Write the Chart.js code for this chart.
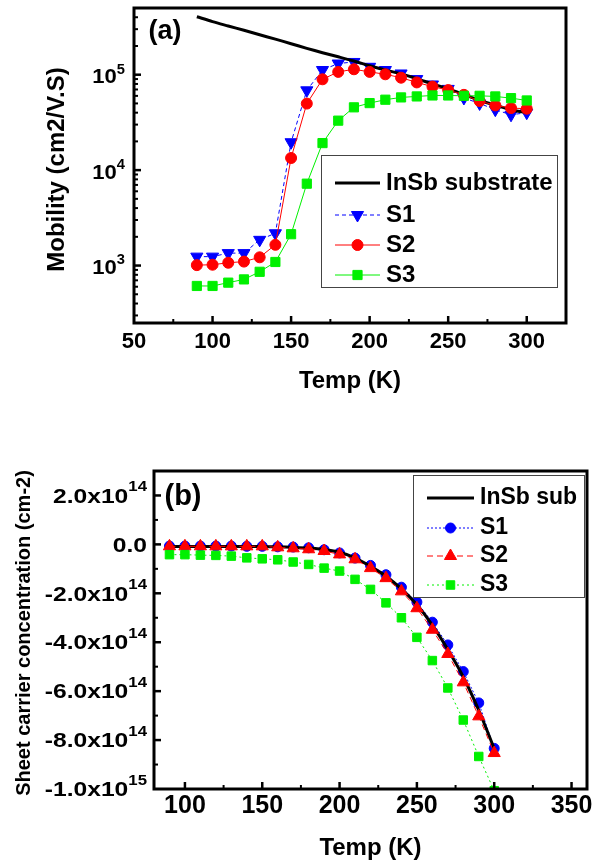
<!DOCTYPE html>
<html>
<head>
<meta charset="utf-8">
<script src="https://cdn.jsdelivr.net/npm/chart.js@4.4.1/dist/chart.umd.min.js"></script>
<style>
  html, body { margin: 0; padding: 0; background: #fff; }
  .wrap { position: absolute; left: 0; width: 595px; }
  #wrapA { top: 0; height: 410px; }
  #wrapB { top: 410px; height: 457px; }
</style>
</head>
<body>
<div class="wrap" id="wrapA"><canvas id="chartA" width="595" height="410"></canvas></div>
<div class="wrap" id="wrapB"><canvas id="chartB" width="595" height="457"></canvas></div>
<script>
// temperatures (K), shared by both panels
const temps = [90, 100, 110, 120, 130, 140, 150, 160, 170, 180, 190, 200, 210, 220, 230, 240, 250, 260, 270, 280, 290, 300];

// (a) mobility, cm2/V.S
const insbMobility = [405000, 360000, 324000, 292000, 262000, 236000, 211000, 189000, 170000, 154000, 139000, 124000, 112000, 102000, 91000, 80000, 71000, 62000, 54000, 48000, 43000, 40000];
const s1Mobility = [1240, 1240, 1350, 1350, 1860, 2180, 19600, 68600, 112000, 131000, 136000, 121000, 112000, 103000, 90000, 79000, 71000, 57000, 50000, 43000, 38000, 40000];
const s2Mobility = [1010, 1020, 1070, 1100, 1220, 1650, 13400, 49800, 89500, 107000, 114000, 107000, 101000, 93000, 83000, 75000, 69000, 61500, 53000, 47700, 44700, 44000];
const s3Mobility = [611, 611, 662, 716, 860, 1090, 2130, 7210, 19200, 33000, 45500, 50400, 54700, 57800, 59200, 60600, 60600, 60100, 60100, 59200, 56800, 53700];

// (b) sheet carrier concentration, cm-2
const insbSheet = [-0.09e14, -0.09e14, -0.09e14, -0.09e14, -0.09e14, -0.09e14, -0.09e14, -0.10e14, -0.12e14, -0.15e14, -0.21e14, -0.32e14, -0.55e14, -0.90e14, -1.30e14, -1.82e14, -2.47e14, -3.30e14, -4.30e14, -5.42e14, -6.78e14, -8.35e14];
const s1Sheet = [-0.07e14, -0.07e14, -0.07e14, -0.07e14, -0.07e14, -0.08e14, -0.08e14, -0.10e14, -0.11e14, -0.14e14, -0.22e14, -0.35e14, -0.56e14, -0.86e14, -1.24e14, -1.75e14, -2.36e14, -3.18e14, -4.11e14, -5.20e14, -6.48e14, -8.34e14];
const s2Sheet = [-0.08e14, -0.08e14, -0.08e14, -0.08e14, -0.08e14, -0.08e14, -0.08e14, -0.12e14, -0.16e14, -0.20e14, -0.27e14, -0.41e14, -0.61e14, -0.97e14, -1.38e14, -1.92e14, -2.61e14, -3.49e14, -4.48e14, -5.64e14, -7.03e14, -8.53e14];
const s3Sheet = [-0.42e14, -0.42e14, -0.44e14, -0.45e14, -0.48e14, -0.55e14, -0.59e14, -0.63e14, -0.72e14, -0.82e14, -0.97e14, -1.09e14, -1.43e14, -1.84e14, -2.39e14, -3.00e14, -3.80e14, -4.75e14, -5.87e14, -7.18e14, -8.67e14, -10.07e14];

// axis ticks
const xTicksA = [50, 100, 150, 200, 250, 300];
const xMinorA = [75, 125, 175, 225, 275];
const yTicksA = [1e3, 1e4, 1e5];
const yTickLabelsA = [['10', '3'], ['10', '4'], ['10', '5']];
const yMinorA = [];
[100, 1000, 10000, 100000].forEach(d => { for (let k = 2; k <= 9; k++) yMinorA.push(k * d); });

const xTicksB = [100, 150, 200, 250, 300, 350];
const xMinorB = [125, 175, 225, 275, 325];
const yTicksB = [2e14, 0, -2e14, -4e14, -6e14, -8e14, -1e15];
const yTickLabelsB = [['2.0x10', '14'], ['0.0', ''], ['-2.0x10', '14'], ['-4.0x10', '14'], ['-6.0x10', '14'], ['-8.0x10', '14'], ['-1.0x10', '15']];
const yMinorB = [1e14, -1e14, -3e14, -5e14, -7e14, -9e14];

const FONT = '"Liberation Sans", Arial, sans-serif';
const pairs = (ys) => temps.map((t, i) => ({ x: t, y: ys[i] }));

function drawText(ctx, s, x, y, size, o = {}) {
    ctx.save();
    ctx.translate(x, y);
    if (o.rot) ctx.rotate(o.rot);
    ctx.scale(o.sx || 1, o.sy || 1);
    ctx.font = 'bold ' + size + 'px ' + FONT;
    ctx.fillStyle = '#000';
    ctx.textAlign = o.align || 'center';
    ctx.textBaseline = o.base || 'middle';
    ctx.fillText(s, 0, 0);
    ctx.restore();
}

function textWidth(ctx, s, size) {
    ctx.save();
    ctx.font = 'bold ' + size + 'px ' + FONT;
    const w = ctx.measureText(s).width;
    ctx.restore();
    return w;
}

// label like 10^5, right aligned at xr
function drawPower(ctx, main, sup, xr, y, st) {
    const ws = sup ? textWidth(ctx, sup, st.sup) * st.sx : 0;
    const wm = textWidth(ctx, main, st.main) * st.sx;
    drawText(ctx, main, xr - ws - wm, y + st.dy, st.main, { align: 'left', sx: st.sx, sy: st.sy });
    if (sup) drawText(ctx, sup, xr - ws, y + st.supDy, st.sup, { align: 'left', sx: st.sx, sy: st.sy });
}

function tick(ctx, x1, y1, x2, y2) {
    ctx.beginPath();
    ctx.moveTo(x1, y1);
    ctx.lineTo(x2, y2);
    ctx.stroke();
}

// frame, inward ticks, labels and boxed legend, all from the chart's scales
function decorPlugin(cfg) {
    return {
        id: 'decor',
        afterDraw(chart) {
            const { ctx, chartArea: a, scales: { x, y } } = chart;
            ctx.save();
            ctx.strokeStyle = '#000';
            ctx.lineCap = 'butt';

            ctx.lineWidth = 2.5;
            cfg.xTicks.forEach(v => { const p = x.getPixelForValue(v); if (p > a.left + 2 && p < a.right - 2) tick(ctx, p, a.bottom, p, a.bottom - 7); });
            cfg.yTicks.forEach(v => { const p = y.getPixelForValue(v); if (p > a.top + 2 && p < a.bottom - 2) tick(ctx, a.left, p, a.left + 7, p); });
            ctx.lineWidth = 2;
            cfg.xMinor.forEach(v => { const p = x.getPixelForValue(v); tick(ctx, p, a.bottom, p, a.bottom - 4); });
            cfg.yMinor.forEach(v => { const p = y.getPixelForValue(v); if (p > a.top + 2 && p < a.bottom - 2) tick(ctx, a.left, p, a.left + 4, p); });

            ctx.lineWidth = 3;
            ctx.strokeRect(a.left, a.top, a.right - a.left, a.bottom - a.top);

            cfg.xTicks.forEach(v => drawText(ctx, String(v), x.getPixelForValue(v), a.bottom + cfg.xLabelGap, cfg.xLabelSize));
            cfg.yTicks.forEach((v, i) => {
                const [m, s] = cfg.yLabels[i];
                drawPower(ctx, m, s, a.left - cfg.yLabelGap, y.getPixelForValue(v), cfg.yLabelStyle);
            });

            drawText(ctx, cfg.xTitle, (a.left + a.right) / 2, a.bottom + cfg.xTitleGap, cfg.xTitleSize);
            drawText(ctx, cfg.yTitle, cfg.yTitleX, (a.top + a.bottom) / 2 + cfg.yTitleDy, cfg.yTitleSize, { rot: -Math.PI / 2 });
            drawText(ctx, cfg.panel, cfg.panelX, cfg.panelY, cfg.panelSize);

            // legend
            const L = cfg.legend;
            ctx.lineWidth = 1;
            ctx.fillStyle = '#fff';
            ctx.fillRect(L.left, L.top, L.right - L.left, L.bottom - L.top);
            ctx.strokeStyle = '#444';
            ctx.strokeRect(L.left + 0.5, L.top + 0.5, L.right - L.left, L.bottom - L.top);
            L.items.forEach((idx, r) => {
                const ds = chart.data.datasets[idx];
                const ry = L.rows[r];
                ctx.save();
                ctx.strokeStyle = ds.borderColor;
                ctx.lineWidth = ds.borderWidth;
                ctx.setLineDash(ds.borderDash || []);
                tick(ctx, L.x0, ry, L.x1, ry);
                ctx.restore();
                if (ds.pointRadius > 0) {
                    ctx.save();
                    ctx.fillStyle = ds.pointBackgroundColor;
                    ctx.strokeStyle = ds.pointBorderColor;
                    ctx.lineWidth = 1;
                    Chart.helpers.drawPoint(ctx, { pointStyle: ds.pointStyle, radius: ds.pointRadius, rotation: ds.pointRotation || 0, borderWidth: 1 }, (L.x0 + L.x1) / 2, ry);
                    ctx.restore();
                }
                drawText(ctx, ds.label, L.textX, ry, L.size, { align: 'left' });
            });
            ctx.restore();
        }
    };
}

const BLUE = '#0000ff', RED = '#ff0000', GREEN = '#00f000';

function series(label, ys, color, opts) {
    return Object.assign({
        label: label,
        data: pairs(ys),
        borderColor: color,
        backgroundColor: color,
        pointBackgroundColor: color,
        pointBorderColor: color,
        pointBorderWidth: 1,
        borderWidth: 1,
        fill: false,
        tension: 0
    }, opts);
}

new Chart(document.getElementById('chartA'), {
    type: 'line',
    data: {
        datasets: [
            series('InSb substrate', insbMobility, '#000', { borderWidth: 3, pointRadius: 0, tension: 0.3, order: 3 }),
            series('S1', s1Mobility, BLUE, { borderDash: [4, 3], pointStyle: 'triangle', pointRotation: 180, pointRadius: 7, order: 4 }),
            series('S2', s2Mobility, RED, { pointStyle: 'circle', pointRadius: 5.5, order: 2 }),
            series('S3', s3Mobility, GREEN, { pointStyle: 'rect', pointRadius: 6.5, order: 1 })
        ]
    },
    options: {
        responsive: false,
        animation: false,
        layout: { padding: { left: 134, top: 6, right: 29, bottom: 87 } },
        plugins: { legend: { display: false }, tooltip: { enabled: false } },
        scales: {
            x: { type: 'linear', min: 50, max: 325, display: false },
            y: { type: 'logarithmic', min: 250, max: 5e5, display: false }
        }
    },
    plugins: [decorPlugin({
        xTicks: xTicksA, xMinor: xMinorA, yTicks: yTicksA, yMinor: yMinorA, yLabels: yTickLabelsA,
        xLabelGap: 19, xLabelSize: 22,
        yLabelGap: 9, yLabelStyle: { main: 21, sup: 14, sx: 1.05, sy: 1, dy: 3, supDy: -5 },
        xTitle: 'Temp (K)', xTitleGap: 58, xTitleSize: 24,
        yTitle: 'Mobility (cm2/V.S)', yTitleX: 57, yTitleDy: 4, yTitleSize: 24,
        panel: '(a)', panelX: 165, panelY: 32, panelSize: 27,
        legend: { left: 321, top: 155, right: 557, bottom: 287, x0: 335, x1: 380, textX: 386, size: 24, rows: [183, 215, 245, 275], items: [0, 1, 2, 3] }
    })]
});

new Chart(document.getElementById('chartB'), {
    type: 'line',
    data: {
        datasets: [
            series('InSb sub', insbSheet, '#000', { borderWidth: 3, pointRadius: 0, tension: 0.3, order: 3 }),
            series('S1', s1Sheet, BLUE, { borderDash: [2, 2], pointStyle: 'circle', pointRadius: 5, order: 4 }),
            series('S2', s2Sheet, RED, { borderDash: [6, 4], pointStyle: 'triangle', pointRadius: 7, order: 2 }),
            series('S3', s3Sheet, GREEN, { borderDash: [2, 3], pointStyle: 'rect', pointRadius: 6, order: 1 })
        ]
    },
    options: {
        responsive: false,
        animation: false,
        layout: { padding: { left: 154, top: 61, right: 5, bottom: 78 } },
        plugins: { legend: { display: false }, tooltip: { enabled: false } },
        scales: {
            x: { type: 'linear', min: 80, max: 360, display: false },
            y: { type: 'linear', min: -1e15, max: 3e14, display: false }
        }
    },
    plugins: [decorPlugin({
        xTicks: xTicksB, xMinor: xMinorB, yTicks: yTicksB, yMinor: yMinorB, yLabels: yTickLabelsB,
        xLabelGap: 17, xLabelSize: 25,
        yLabelGap: 7, yLabelStyle: { main: 22, sup: 15, sx: 1.12, sy: 0.95, dy: 1.5, supDy: -8 },
        xTitle: 'Temp (K)', xTitleGap: 59, xTitleSize: 24,
        yTitle: 'Sheet carrier concentration (cm-2)', yTitleX: 24, yTitleDy: 3, yTitleSize: 20,
        panel: '(b)', panelX: 183, panelY: 87, panelSize: 29,
        legend: { left: 413, top: 65, right: 584, bottom: 187, x0: 427, x1: 474, textX: 480, size: 23, rows: [88, 118, 146, 175], items: [0, 1, 2, 3] }
    })]
});
</script>
</body>
</html>
